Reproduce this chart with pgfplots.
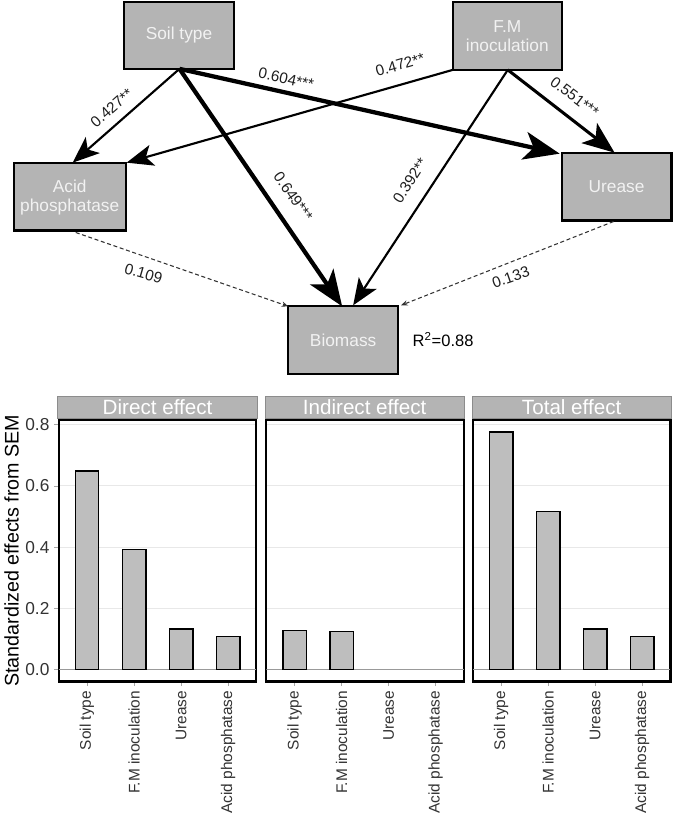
\documentclass[border=0pt]{standalone}
\usepackage{fontspec}
\setmainfont{Liberation Sans}
\usepackage{pgfplots}
\pgfplotsset{compat=1.18}
\usetikzlibrary{arrows.meta}

\definecolor{boxgray}{RGB}{180,180,180}
\definecolor{bargray}{RGB}{190,190,190}
\definecolor{gridgray}{RGB}{232,232,232}
\definecolor{boxtext}{RGB}{242,242,242}
\definecolor{labtext}{RGB}{30,30,30}

\newcommand\boxfont{\fontsize{13}{14.5}\selectfont}
\newcommand\pathfont{\fontsize{11.5}{13}\selectfont}
\newcommand\stripfont{\fontsize{15.5}{17}\selectfont}
\newcommand\tickfont{\fontsize{11.6}{13}\selectfont}

\pgfplotsset{
  effpanel/.style={
    ybar, scale only axis, width=148.5pt, height=196.5pt,
    anchor=north west,
    xmin=0.4, xmax=4.6, ymin=-0.0388, ymax=0.815,
    bar width=0.5, bar shift=0pt,
    xtick={1,2,3,4},
    xticklabels={Soil type,F.M inoculation,Urease,Acid phosphatase},
    x tick label style={rotate=90, anchor=east, font=\tickfont, text=black!80},
    ytick={0,0.2,0.4,0.6,0.8},
    ymajorgrids, grid style={gridgray, line width=0.7pt},
    axis line style={line width=1.6pt},
    tick style={gray!70, line width=0.6pt},
    tick align=outside, major tick length=3.5pt,
    xtick pos=left, ytick pos=left,
    /pgf/number format/assume math mode=true,
  },
  effbar/.style={fill=bargray, draw=black, line width=1.1pt},
}

\begin{document}
\begin{tikzpicture}
\begin{scope}[x=0.75pt,y=-0.75pt]
\useasboundingbox (0,0) rectangle (675,818);

% path diagram boxes
\tikzset{sembox/.style={fill=boxgray, draw=black, line width=1.6pt}}
\draw[sembox] (123,2) rectangle (234,69);
\draw[sembox] (453,2) rectangle (562,70);
\draw[sembox] (13,163) rectangle (125,231);
\draw[sembox] (562,153) rectangle (672,221);
\draw[sembox] (288,307) rectangle (398,375);
\node[text=boxtext, font=\boxfont] at (178.5,35.5) {Soil type};
\node[text=boxtext, font=\boxfont, align=center] at (507.5,36) {F.M\\inoculation};
\node[text=boxtext, font=\boxfont, align=center] at (69,198) {Acid\\phosphatase};
\node[text=boxtext, font=\boxfont] at (617,187) {Urease};
\node[text=boxtext, font=\boxfont] at (343,341) {Biomass};
\node[font=\fontsize{12.4}{14}\selectfont, anchor=west] at (408,340) {R\textsuperscript{2}=0.88};

% paths
\tikzset{
  thin arr/.style={line width=1.6pt, -{Stealth[length=20pt,width=16pt,inset=5pt]}},
  mid arr/.style={line width=2.3pt, -{Stealth[length=24pt,width=19pt,inset=6pt]}},
  thick arr/.style={line width=3.2pt, -{Stealth[length=27pt,width=21pt,inset=7pt]}},
  dash arr/.style={line width=0.8pt, black!80, dash pattern=on 3pt off 2pt,
                   -{Stealth[length=5pt,width=4pt]}},
}
\draw[thin arr] (179,69) -- (72,163);
\draw[thick arr] (179,69) -- (560,154);
\draw[thick arr] (179,69) -- (342,307);
\draw[thin arr] (453,70) -- (126,163);
\draw[mid arr] (508,70) -- (615,153);
\draw[thin arr] (508,70) -- (353,306);
\draw[dash arr] (75,233) -- (288,307);
\draw[dash arr] (614,222) -- (401,306);

\tikzset{plab/.style={font=\pathfont, text=labtext, inner sep=0pt}}
\node[plab, rotate=41] at (111,108) {0.427**};
\node[plab, rotate=-12.6] at (286,79) {0.604***};
\node[plab, rotate=-55] at (293,197) {0.649***};
\node[plab, rotate=16] at (400,65) {0.472**};
\node[plab, rotate=-37] at (575,97) {0.551***};
\node[plab, rotate=57] at (410,181) {0.392**};
\node[plab, rotate=-16] at (143,274) {0.109};
\node[plab, rotate=19] at (511,278) {0.133};

% facet strips
\tikzset{strip/.style={fill=boxgray, draw=gray!90, line width=0.5pt}}
\draw[strip] (57,397) rectangle (257,419);
\draw[strip] (265,397) rectangle (464,419);
\draw[strip] (472,397) rectangle (672,419);
\node[text=white, font=\stripfont] at (157,408) {Direct effect};
\node[text=white, font=\stripfont] at (364.5,408) {Indirect effect};
\node[text=white, font=\stripfont] at (572,408) {Total effect};
\end{scope}

\begin{axis}[effpanel, at={(43.5pt,-315.75pt)},
  yticklabel style={font=\fontsize{13}{14}\selectfont, text=black!80,
    /pgf/number format/fixed, /pgf/number format/fixed zerofill,
    /pgf/number format/precision=1},
  ylabel={Standardized effects from SEM},
  ylabel style={font=\fontsize{14.8}{17}\selectfont, yshift=-2pt},
]
  \draw[gray!80, line width=0.8pt] (axis cs:0.4,0) -- (axis cs:4.6,0);
  \addplot[effbar] coordinates {(1,0.649) (2,0.392) (3,0.133) (4,0.109)};
\end{axis}

\begin{axis}[effpanel, at={(199.5pt,-315.75pt)}, yticklabels={},
  y tick style={draw=none}]
  \draw[gray!80, line width=0.8pt] (axis cs:0.4,0) -- (axis cs:4.6,0);
  \addplot[effbar] coordinates {(1,0.127) (2,0.125)};
\end{axis}

\begin{axis}[effpanel, at={(354.75pt,-315.75pt)}, yticklabels={},
  y tick style={draw=none}]
  \draw[gray!80, line width=0.8pt] (axis cs:0.4,0) -- (axis cs:4.6,0);
  \addplot[effbar] coordinates {(1,0.776) (2,0.517) (3,0.133) (4,0.109)};
\end{axis}
\end{tikzpicture}
\end{document}
